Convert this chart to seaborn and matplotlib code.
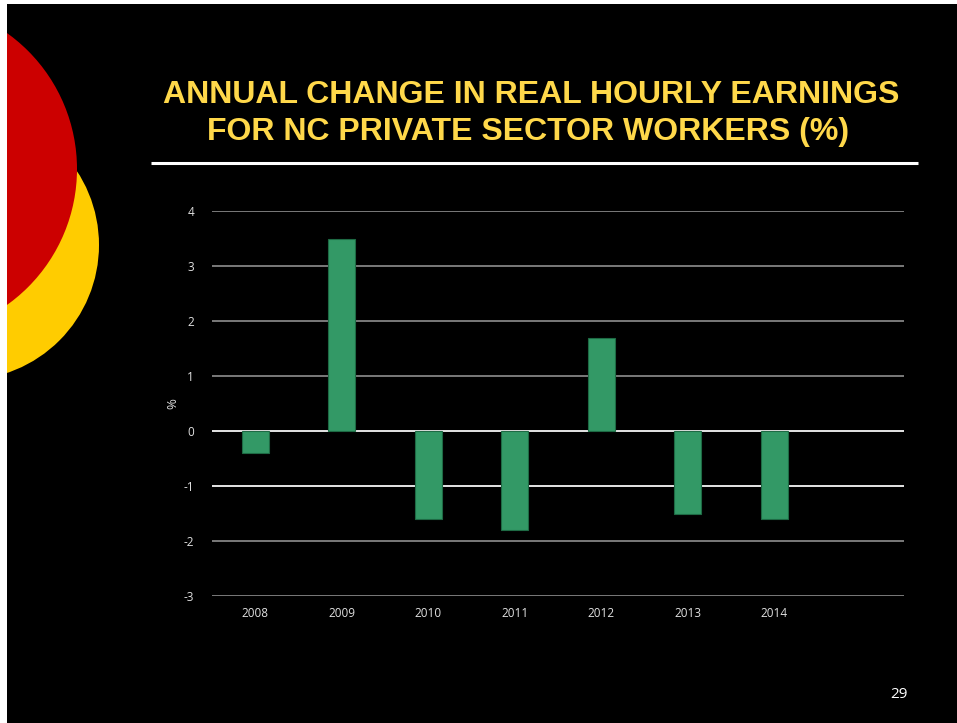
import matplotlib
matplotlib.use("Agg")
import matplotlib.pyplot as plt
import matplotlib.patches as mpatches
from matplotlib import font_manager
import seaborn as sns
import pandas as pd

years = ["2008", "2009", "2010", "2011", "2012", "2013", "2014"]
change = [-0.4, 3.5, -1.6, -1.8, 1.7, -1.5, -1.6]
yticks = [-3, -2, -1, 0, 1, 2, 3, 4]

df = pd.DataFrame({"year": years, "change": change})

sns.set_theme(style="dark")
plt.rcParams["font.family"] = ["Open Sans", "DejaVu Sans"]
plt.rcParams["axes.unicode_minus"] = False

# narrow font for the title if there is one, else plain Arial-like
try:
    font_manager.findfont(font_manager.FontProperties(family="Liberation Sans Narrow", weight="bold"),
                          fallback_to_default=False)
    title_font, title_size = "Liberation Sans Narrow", 24
except Exception:
    title_font, title_size = "Liberation Sans", 23

fig = plt.figure(figsize=(9.57, 7.23), dpi=100)
fig.patch.set_facecolor("white")

# slide background and decoration
W, H = 957, 723
fig.patches.append(mpatches.Rectangle((7 / W, 0), 1 - 7 / W, 1 - 4 / H,
                                      transform=fig.transFigure, facecolor="black",
                                      edgecolor="none", zorder=0))
deco = fig.add_axes([0, 0, 1, 1], zorder=0.5)
deco.set_xlim(0, W)
deco.set_ylim(H, 0)
deco.axis("off")
deco.add_patch(mpatches.Circle((-36, 245), 135, facecolor="#ffcc00", edgecolor="none"))
deco.add_patch(mpatches.Circle((-90, 169), 167, facecolor="#cc0000", edgecolor="none"))
deco.add_patch(mpatches.Rectangle((0, 0), 7, H, facecolor="white", edgecolor="none"))
deco.plot([151, 918], [163, 163], color="white", lw=2.2, solid_capstyle="butt")

fig.text(531 / W, 1 - 95 / H, "ANNUAL CHANGE IN REAL HOURLY EARNINGS", ha="center",
         va="center", color="#ffd84a", fontsize=title_size, fontweight="bold", family=title_font)
fig.text(528 / W, 1 - 132 / H, "FOR NC PRIVATE SECTOR WORKERS (%)", ha="center",
         va="center", color="#ffd84a", fontsize=title_size, fontweight="bold", family=title_font)
fig.text(899 / W, 1 - 694 / H, "29", ha="center", va="center", color="white", fontsize=11)

ax = fig.add_axes([212 / W, 1 - 596 / H, 692 / W, 385 / H], zorder=1)
ax.set_facecolor("none")
sns.barplot(data=df, x="year", y="change", color="#339966", saturation=1,
            width=0.31, edgecolor="#1e6a44", linewidth=0.8, ax=ax, zorder=3)
ax.set_xlim(-0.5, 7.5)
ax.set_ylim(-3, 4)
ax.set_yticks(yticks)
ax.grid(axis="y", color="#9a9a9a", lw=1.1, zorder=0)
ax.grid(axis="x", visible=False)
for v in [0, -1]:
    ax.axhline(v, color="white", lw=1.1, zorder=1)
for s in ax.spines.values():
    s.set_visible(False)
ax.tick_params(axis="both", colors="#e0e0e0", labelsize=8.5, length=0)
ax.tick_params(axis="y", pad=13)
ax.tick_params(axis="x", pad=8)
ax.set_xlabel("")
ax.set_ylabel("%", color="#e0e0e0", fontsize=9.5, labelpad=3)

fig.savefig("out.png", dpi=100, facecolor=fig.get_facecolor())
